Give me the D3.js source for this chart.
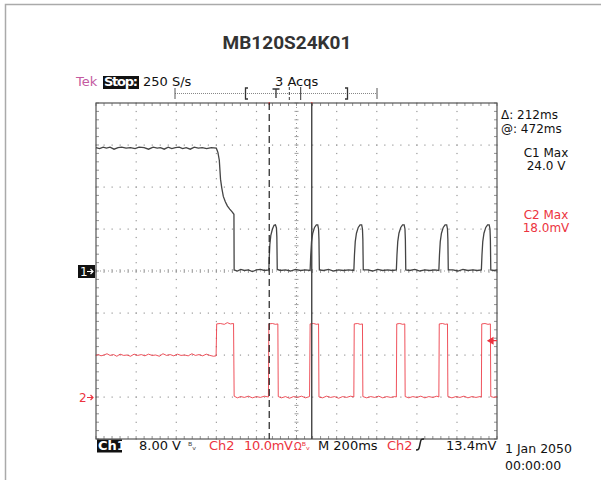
<!DOCTYPE html>
<html>
<head>
<meta charset="utf-8">
<script src="https://cdn.jsdelivr.net/npm/d3@7"></script>
<style>
  body { margin: 0; background: #fff; }
  text { font-family: "DejaVu Sans", sans-serif; }
</style>
</head>
<body>
<div id="scope"></div>
<script>
var title = "MB120S24K01"

// time axis (ms), 200 ms / div
var timeDivs = [0, 200, 400, 600, 800, 1000, 1200, 1400, 1600, 1800, 2000]
// ch1 volts, 8 V / div (ground at centre)
var ch1Divs = [-32, -24, -16, -8, 0, 8, 16, 24, 32]

// Ch1 trace [ms, V]
var ch1Trace = [
  [0, 23.5], [18, 23.3], [36, 23.6], [52, 23.4], [70, 23.6], [90, 23.2], [110, 23.5], [128, 23.6],
  [150, 23.4], [172, 23.5], [195, 23.3], [215, 23.6], [240, 23.5], [262, 23.2], [285, 23.6],
  [305, 23.4], [322, 23.5], [340, 23.2], [360, 23.6], [378, 23.3], [396, 23.5], [415, 23.6],
  [432, 23.3], [450, 23.5], [470, 23.2], [490, 23.6], [510, 23.4], [530, 23.5], [552, 23.3],
  [575, 23.5], [600, 23.4],
  [608, 22.6], [615, 21.1], [621, 17.5], [627, 15.9], [635, 14.2], [645, 13.2], [655, 12.4],
  [667, 11.8], [678, 11.3], [688, 10.8], [689, 0.2],
  [705, 0.0], [722, 0.3], [740, 0.1], [760, 0.2], [780, -0.1], [800, 0.2], [820, 0.3], [840, 0.1], [862, 0.2],
  [864, 2.5], [867, 5.0], [872, 6.8], [880, 8.0], [888, 8.7], [895, 8.8], [900, 8.2], [902, 6.5], [904, 0.3],
  [920, 0.1], [945, 0.2], [970, 0.0], [995, 0.3], [1020, 0.1], [1045, 0.2], [1068, 0.1],
  [1071, 3.0], [1075, 5.6], [1081, 7.2], [1090, 8.3], [1099, 8.8], [1106, 8.8], [1110, 8.0], [1112, 6.0], [1114, 0.2],
  [1135, 0.1], [1160, 0.3], [1185, 0.0], [1210, 0.2], [1235, 0.1], [1260, 0.2], [1286, 0.1],
  [1289, 3.0], [1293, 5.6], [1299, 7.2], [1308, 8.3], [1317, 8.8], [1325, 8.8], [1329, 8.0], [1331, 6.0], [1333, 0.2],
  [1355, 0.2], [1380, 0.0], [1405, 0.3], [1430, 0.1], [1455, 0.2], [1478, 0.1], [1498, 0.2],
  [1501, 3.0], [1505, 5.6], [1511, 7.2], [1520, 8.3], [1529, 8.8], [1537, 8.8], [1541, 8.0], [1543, 6.0], [1545, 0.2],
  [1565, 0.1], [1590, 0.3], [1615, 0.0], [1640, 0.2], [1665, 0.1], [1690, 0.2], [1710, 0.1],
  [1713, 3.0], [1717, 5.6], [1723, 7.2], [1732, 8.3], [1741, 8.8], [1749, 8.8], [1753, 8.0], [1755, 6.0], [1757, 0.2],
  [1780, 0.2], [1805, 0.0], [1830, 0.3], [1855, 0.1], [1880, 0.2], [1902, 0.1], [1922, 0.2],
  [1925, 3.0], [1929, 5.6], [1935, 7.2], [1944, 8.3], [1953, 8.8], [1961, 8.8], [1965, 8.0], [1967, 6.0], [1969, 0.2],
  [1985, 0.1], [2000, 0.2]
]

// Ch2 trace [ms, mV]
var ch2Trace = [
  [0, 9.9], [12, 10.1], [25, 9.8], [40, 10.0], [55, 10.3], [70, 9.9], [88, 10.1], [104, 9.7],
  [120, 10.2], [138, 9.9], [155, 10.0], [172, 9.7], [190, 10.2], [208, 9.9], [226, 10.1],
  [244, 9.8], [262, 10.2], [280, 9.9], [298, 10.0], [316, 9.7], [334, 10.3], [352, 9.9],
  [370, 10.1], [388, 9.8], [406, 10.2], [424, 9.9], [442, 10.0], [460, 9.8], [478, 10.3],
  [496, 9.9], [514, 10.1], [532, 9.8], [550, 10.2], [568, 9.9], [586, 9.7], [599, 9.8],
  [602, 17.4], [620, 17.5], [640, 17.3], [655, 17.7], [670, 17.4], [686, 17.5],
  [689, 0.2], [705, -0.2], [722, 0.1], [740, -0.1], [760, 0.2], [780, -0.2], [800, 0.1], [820, -0.1], [840, 0.2], [860, 0.0],
  [862, 17.4], [880, 17.5], [895, 17.3], [907, 17.4],
  [909, 0.1], [925, -0.2], [945, 0.1], [965, -0.3], [985, 0.1], [1005, -0.1], [1025, 0.2], [1045, -0.2], [1065, 0.1],
  [1068, 17.4], [1085, 17.5], [1100, 17.3], [1110, 17.4],
  [1112, 0.0], [1130, -0.2], [1150, 0.2], [1170, -0.1], [1190, 0.1], [1210, -0.3], [1230, 0.1], [1250, -0.1], [1270, 0.2], [1286, 0.0],
  [1288, 17.4], [1305, 17.5], [1318, 17.3], [1329, 17.4],
  [1331, 0.1], [1350, -0.2], [1370, 0.1], [1390, -0.1], [1410, 0.2], [1430, -0.2], [1450, 0.1], [1470, -0.1], [1490, 0.1], [1498, 0.0],
  [1500, 17.4], [1515, 17.5], [1530, 17.3], [1540, 17.4],
  [1542, 0.1], [1560, -0.2], [1580, 0.1], [1600, -0.1], [1620, 0.2], [1640, -0.2], [1660, 0.1], [1680, -0.1], [1700, 0.2], [1710, 0.0],
  [1712, 17.4], [1728, 17.5], [1742, 17.3], [1753, 17.4],
  [1755, 0.1], [1775, -0.2], [1795, 0.1], [1815, -0.1], [1835, 0.2], [1855, -0.2], [1875, 0.1], [1895, -0.1], [1915, 0.1], [1922, 0.0],
  [1924, 17.4], [1940, 17.5], [1955, 17.3], [1967, 17.4],
  [1969, 0.1], [1985, -0.1], [2000, 0.1]
]

var cursorTimes = [864, 1076]   // dashed, solid
var ch2TrigLevel = 13.4
var readouts = ["\u0394: 212ms", "@: 472ms"]
var ch1Max = ["C1 Max", "24.0 V"]
var ch2Max = ["C2 Max", "18.0mV"]
var dateText = ["1 Jan 2050", "00:00:00"]

var W = 601, H = 480
var red = "#ec3440"
var grid = {left: 96, right: 497, top: 103, bottom: 439}

var svg = d3.select("#scope").append("svg")
    .attr("width", W).attr("height", H)

// outer frame
svg.append("rect")
    .attr("x", 5.5).attr("y", 4.5)
    .attr("width", W + 20).attr("height", H + 20)
    .attr("fill", "none").attr("stroke", "#aaa").attr("stroke-width", 1.5)

svg.append("text")
    .attr("x", 287).attr("y", 49)
    .attr("text-anchor", "middle")
    .style("font-family", "Roboto, sans-serif")
    .attr("font-weight", "bold").attr("font-size", 19)
    .attr("fill", "#333")
    .text(title)

var x = d3.scaleLinear().domain([0, 2000]).range([grid.left, grid.right])
var y1 = d3.scaleLinear().domain([-32, 32]).range([grid.bottom, grid.top])
var y2 = d3.scaleLinear().domain([-10, 70]).range([grid.bottom, grid.top])

var xMinor = d3.range(0, 2000.1, 40)
var yMinor = d3.range(-32, 32.01, 1.6)

var g = svg.append("g")

// dotted grid lines
timeDivs.slice(1, -1).forEach(function(t) {
  if (t == 1000) return
  g.selectAll(null).data(yMinor).enter().append("rect")
    .attr("x", x(t) - 0.5).attr("y", function(d){ return y1(d) - 0.5 })
    .attr("width", 1.2).attr("height", 1.2).attr("fill", "#999")
})
ch1Divs.slice(1, -1).forEach(function(v) {
  if (v == 0) return
  g.selectAll(null).data(xMinor).enter().append("rect")
    .attr("x", function(d){ return x(d) - 0.5 }).attr("y", y1(v) - 0.5)
    .attr("width", 1.2).attr("height", 1.2).attr("fill", "#999")
})

// centre lines with minor ticks
g.selectAll(null).data(xMinor).enter().append("line")
  .attr("x1", function(d){ return x(d) }).attr("x2", function(d){ return x(d) })
  .attr("y1", y1(0) - 2).attr("y2", y1(0) + 2)
  .attr("stroke", "#888").attr("stroke-width", 0.8)
g.selectAll(null).data(yMinor).enter().append("line")
  .attr("y1", function(d){ return y1(d) }).attr("y2", function(d){ return y1(d) })
  .attr("x1", x(1000) - 2).attr("x2", x(1000) + 2)
  .attr("stroke", "#888").attr("stroke-width", 0.8)
g.append("line").attr("x1", grid.left).attr("x2", grid.right)
  .attr("y1", y1(0)).attr("y2", y1(0))
  .attr("stroke", "#999").attr("stroke-dasharray", "1,3")
g.append("line").attr("y1", grid.top).attr("y2", grid.bottom)
  .attr("x1", x(1000)).attr("x2", x(1000))
  .attr("stroke", "#999").attr("stroke-dasharray", "1,3")

// border ticks
g.selectAll(null).data(xMinor).enter().append("line")
  .attr("x1", function(d){ return x(d) }).attr("x2", function(d){ return x(d) })
  .attr("y1", grid.top).attr("y2", grid.top + 3)
  .attr("stroke", "#777").attr("stroke-width", 0.8)
g.selectAll(null).data(xMinor).enter().append("line")
  .attr("x1", function(d){ return x(d) }).attr("x2", function(d){ return x(d) })
  .attr("y1", grid.bottom).attr("y2", grid.bottom - 3)
  .attr("stroke", "#777").attr("stroke-width", 0.8)
g.selectAll(null).data(yMinor).enter().append("line")
  .attr("y1", function(d){ return y1(d) }).attr("y2", function(d){ return y1(d) })
  .attr("x1", grid.left).attr("x2", grid.left + 3)
  .attr("stroke", "#777").attr("stroke-width", 0.8)
g.selectAll(null).data(yMinor).enter().append("line")
  .attr("y1", function(d){ return y1(d) }).attr("y2", function(d){ return y1(d) })
  .attr("x1", grid.right).attr("x2", grid.right - 3)
  .attr("stroke", "#777").attr("stroke-width", 0.8)

g.append("rect")
  .attr("x", grid.left).attr("y", grid.top)
  .attr("width", grid.right - grid.left).attr("height", grid.bottom - grid.top)
  .attr("fill", "none").attr("stroke", "#555").attr("stroke-width", 1.2)

// cursor marks on the top border
g.selectAll(null).data(cursorTimes).enter().append("line")
  .attr("x1", function(d){ return x(d) }).attr("x2", function(d){ return x(d) })
  .attr("y1", grid.top - 1).attr("y2", grid.top + 2)
  .attr("stroke", "#d04040").attr("stroke-width", 1.2)

// traces
var line1 = d3.line().x(function(d){ return x(d[0]) }).y(function(d){ return y1(d[1]) })
var line2 = d3.line().x(function(d){ return x(d[0]) }).y(function(d){ return y2(d[1]) })

svg.append("path").datum(ch2Trace)
  .attr("d", line2).attr("fill", "none")
  .attr("stroke", red).attr("stroke-width", 1).attr("stroke-opacity", 0.85)

svg.append("path").datum(ch1Trace)
  .attr("d", line1).attr("fill", "none")
  .attr("stroke", "#444").attr("stroke-width", 1.3)

// cursors
svg.append("line")
  .attr("x1", x(cursorTimes[0])).attr("x2", x(cursorTimes[0]))
  .attr("y1", grid.top).attr("y2", grid.bottom)
  .attr("stroke", "#222").attr("stroke-width", 1.2).attr("stroke-dasharray", "7,4")
svg.append("line")
  .attr("x1", x(cursorTimes[1])).attr("x2", x(cursorTimes[1]))
  .attr("y1", grid.top).attr("y2", grid.bottom)
  .attr("stroke", "#444").attr("stroke-width", 1.4)

// ground / trigger markers
var m1 = svg.append("g").attr("transform", "translate(78," + y1(0) + ")")
m1.append("rect").attr("x", 0).attr("y", -6).attr("width", 17).attr("height", 13).attr("fill", "#111")
m1.append("text").attr("x", 2).attr("y", 4.5).attr("font-size", 12).attr("fill", "#fff").text("1")
m1.append("path").attr("d", "M9,0.5 H15 M12.5,-2 L15,0.5 L12.5,3").attr("stroke", "#fff").attr("fill", "none").attr("stroke-width", 1.2)

var m2 = svg.append("g").attr("transform", "translate(78," + y2(0) + ")")
m2.append("text").attr("x", 1).attr("y", 4.5).attr("font-size", 12).attr("fill", red).text("2")
m2.append("path").attr("d", "M9,0.5 H15 M12.5,-2 L15,0.5 L12.5,3").attr("stroke", red).attr("fill", "none").attr("stroke-width", 1.2)

svg.append("path")
  .attr("transform", "translate(488," + y2(ch2TrigLevel) + ")")
  .attr("d", "M0,0 L5,-3 L5,3 Z M4,0 H9")
  .attr("fill", red).attr("stroke", red).attr("stroke-width", 1.2)

// header readouts
svg.append("text").attr("x", 76).attr("y", 86).attr("font-size", 13).attr("fill", "#c45aa0").text("Tek")
svg.append("rect").attr("x", 103).attr("y", 76).attr("width", 36).attr("height", 13).attr("fill", "#111")
svg.append("text").attr("x", 104).attr("y", 86).attr("font-size", 13).attr("font-weight", "bold")
  .attr("fill", "#fff").attr("textLength", 34).text("Stop:")
svg.append("text").attr("x", 143).attr("y", 86).attr("font-size", 13).attr("fill", "#111").text("250 S/s")
svg.append("text").attr("x", 275).attr("y", 86).attr("font-size", 13).attr("fill", "#111").text("3 Acqs")

// record view ruler
var ruler = svg.append("g").attr("stroke", "#555")
ruler.append("line").attr("x1", 175).attr("x2", 377).attr("y1", 93.5).attr("y2", 93.5)
  .attr("stroke-dasharray", "1,1").attr("stroke", "#888")
ruler.append("line").attr("x1", 175).attr("x2", 175).attr("y1", 88).attr("y2", 99)
ruler.append("line").attr("x1", 377).attr("x2", 377).attr("y1", 88).attr("y2", 99)
ruler.append("path").attr("d", "M248,88 H245.5 V99 H248").attr("fill", "none").attr("stroke", "#333").attr("stroke-width", 1.3)
ruler.append("path").attr("d", "M345,88 H347.5 V99 H345").attr("fill", "none").attr("stroke", "#333").attr("stroke-width", 1.3)
ruler.append("path").attr("d", "M272.5,89 H279.5 M276,89 V98").attr("fill", "none").attr("stroke", "#333").attr("stroke-width", 1.3)
ruler.append("line").attr("x1", 289.3).attr("x2", 289.3).attr("y1", 87).attr("y2", 100)
  .attr("stroke-dasharray", "3,2").attr("stroke", "#333")
ruler.append("line").attr("x1", 300.7).attr("x2", 300.7).attr("y1", 87).attr("y2", 100).attr("stroke", "#333")

// right-side readouts
svg.selectAll(null).data(readouts).enter().append("text")
  .attr("x", 501).attr("y", function(d, i){ return 119 + i * 14 })
  .attr("font-size", 12).attr("fill", "#111").text(function(d){ return d })
svg.selectAll(null).data(ch1Max).enter().append("text")
  .attr("x", 546).attr("y", function(d, i){ return 157 + i * 13 })
  .attr("text-anchor", "middle").attr("font-size", 12).attr("fill", "#111").text(function(d){ return d })
svg.selectAll(null).data(ch2Max).enter().append("text")
  .attr("x", 546).attr("y", function(d, i){ return 219 + i * 13 })
  .attr("text-anchor", "middle").attr("font-size", 12).attr("fill", red).text(function(d){ return d })

// bottom readouts
var by = 450
svg.append("rect").attr("x", 97).attr("y", 439.5).attr("width", 25).attr("height", 13).attr("fill", "#111")
svg.append("text").attr("x", 98).attr("y", by).attr("font-size", 13).attr("font-weight", "bold").attr("fill", "#fff").text("Ch1")
svg.append("text").attr("x", 139).attr("y", by).attr("font-size", 13).attr("fill", "#111").text("8.00 V")
svg.append("text").attr("x", 188).attr("y", by).attr("font-size", 10).attr("fill", "#444").text("\u1d2e\u1d65")
svg.append("text").attr("x", 209).attr("y", by).attr("font-size", 13).attr("fill", red).text("Ch2")
svg.append("text").attr("x", 244).attr("y", by).attr("font-size", 13).attr("fill", red).attr("textLength", 49).text("10.0mV")
svg.append("text").attr("x", 294).attr("y", by).attr("font-size", 10).attr("fill", red).text("\u03a9\u1d2e\u1d65")
svg.append("text").attr("x", 318).attr("y", by).attr("font-size", 13).attr("fill", "#111").text("M 200ms")
svg.append("text").attr("x", 387).attr("y", by).attr("font-size", 13).attr("fill", red).text("Ch2")
svg.append("path").attr("d", "M416,450 C419,450 419,449 420,444 C421,439 421,439 424,439")
  .attr("fill", "none").attr("stroke", "#222").attr("stroke-width", 1.5)
svg.append("text").attr("x", 446).attr("y", by).attr("font-size", 13).attr("fill", "#111").text("13.4mV")

svg.selectAll(null).data(dateText).enter().append("text")
  .attr("x", 505).attr("y", function(d, i){ return 453 + i * 17 })
  .attr("font-size", 12.5).attr("fill", "#111").text(function(d){ return d })
</script>
</body>
</html>
